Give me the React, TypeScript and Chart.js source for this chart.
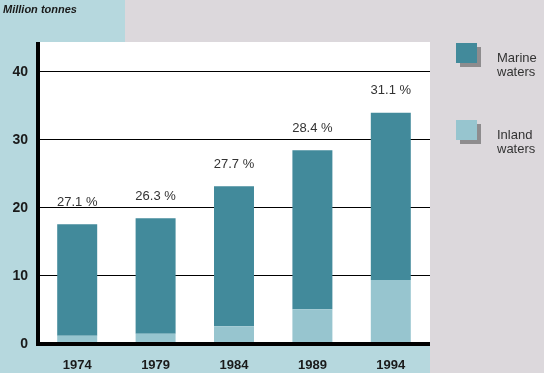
import React, { useEffect, useRef } from "react";
import { Chart, registerables } from "chart.js";

Chart.register(...registerables);

const years = ["1974", "1979", "1984", "1989", "1994"];
const inlandValues = [1.2, 1.5, 2.6, 5.1, 9.4];
const marineValues = [16.4, 17.0, 20.6, 23.4, 24.6];
const shareLabels = ["27.1 %", "26.3 %", "27.7 %", "28.4 %", "31.1 %"];
const yTicks = [0, 10, 20, 30, 40];
const unitLabel = "Million tonnes";
const legendItems = [
  { lines: ["Marine", "waters"], color: "#428a9b" },
  { lines: ["Inland", "waters"], color: "#97c5cf" },
];

const MARINE = "#428a9b";
const INLAND = "#97c5cf";
const LIGHT_BLUE = "#b6d8de";
const GREY = "#dcd8dc";

const W = 544;
const H = 373;

const FONT = "'Liberation Sans', Arial, Helvetica, sans-serif";

const decorPlugin = {
  id: "decor",
  beforeDraw(chart: any) {
    const { ctx, chartArea } = chart;
    const { left, right, top, bottom } = chartArea;
    ctx.save();
    ctx.fillStyle = GREY;
    ctx.fillRect(0, 0, W, H);
    ctx.fillStyle = LIGHT_BLUE;
    ctx.fillRect(0, 0, 125, top);
    ctx.fillRect(0, 0, left, H);
    ctx.fillRect(0, bottom, right, H - bottom);
    ctx.fillStyle = "#ffffff";
    ctx.fillRect(left, top, right - left, bottom - top);
    // unit label
    ctx.fillStyle = "#1a1a1a";
    ctx.font = `italic bold 11px ${FONT}`;
    ctx.textAlign = "left";
    ctx.textBaseline = "middle";
    ctx.fillText(unitLabel, 3, 10);
    ctx.restore();
  },
  afterDatasetsDraw(chart: any) {
    const { ctx, chartArea } = chart;
    const { left, right, top, bottom } = chartArea;
    ctx.save();
    // axis lines
    ctx.fillStyle = "#000000";
    ctx.fillRect(left - 2, top, 4, bottom + 2 - top);
    ctx.fillRect(left - 2, bottom - 2, right - left + 2, 4);
    // share labels above bars
    const meta = chart.getDatasetMeta(1);
    ctx.fillStyle = "#333333";
    ctx.font = `13px ${FONT}`;
    ctx.textAlign = "center";
    ctx.textBaseline = "middle";
    meta.data.forEach((bar: any, i: number) => {
      ctx.fillText(shareLabels[i], bar.x, bar.y - 22);
    });
    // legend
    const lx = 456;
    const lys = [43, 120];
    legendItems.forEach((item, i) => {
      const y = lys[i];
      ctx.fillStyle = "#8e8c8e";
      ctx.fillRect(lx + 4, y + 4, 21, 20);
      ctx.fillStyle = item.color;
      ctx.fillRect(lx, y, 21, 20);
      ctx.fillStyle = "#333333";
      ctx.font = `13px ${FONT}`;
      ctx.textAlign = "left";
      ctx.textBaseline = "middle";
      ctx.fillText(item.lines[0], 497, y + 15);
      ctx.fillText(item.lines[1], 497, y + 29);
    });
    ctx.restore();
  },
};

export default function App() {
  const ref = useRef<HTMLCanvasElement | null>(null);

  useEffect(() => {
    if (!ref.current) return;
    const chart = new Chart(ref.current, {
      type: "bar",
      data: {
        labels: years,
        datasets: [
          {
            label: "Inland waters",
            data: inlandValues,
            backgroundColor: INLAND,
            barPercentage: 0.51,
            categoryPercentage: 1,
          },
          {
            label: "Marine waters",
            data: marineValues,
            backgroundColor: MARINE,
            barPercentage: 0.51,
            categoryPercentage: 1,
          },
        ],
      },
      options: {
        responsive: false,
        animation: false,
        layout: { padding: { top: 42, right: 114, left: 0, bottom: 0 } },
        plugins: {
          legend: { display: false },
          tooltip: { enabled: false },
        },
        scales: {
          x: {
            stacked: true,
            grid: { display: false, drawTicks: false },
            border: { display: false },
            ticks: {
              color: "#1a1a1a",
              font: { family: FONT, size: 13, weight: "bold" },
              padding: 14,
              maxRotation: 0,
            },
            afterFit: (scale: any) => {
              scale.height = 29;
            },
          },
          y: {
            stacked: true,
            min: 0,
            max: 44.41,
            grid: { color: "#000000", lineWidth: 1, drawTicks: false },
            border: { display: false },
            ticks: {
              color: "#1a1a1a",
              font: { family: FONT, size: 14, weight: "bold" },
              padding: 10,
            },
            afterBuildTicks: (scale: any) => {
              scale.ticks = yTicks.map((v) => ({ value: v }));
            },
            afterFit: (scale: any) => {
              scale.width = 38;
            },
          },
        },
      },
      plugins: [decorPlugin],
    });
    return () => chart.destroy();
  }, []);

  return (
    <div style={{ position: "absolute", left: 0, top: 0, width: W, height: H }}>
      <canvas ref={ref} width={W} height={H} style={{ display: "block" }} />
    </div>
  );
}
